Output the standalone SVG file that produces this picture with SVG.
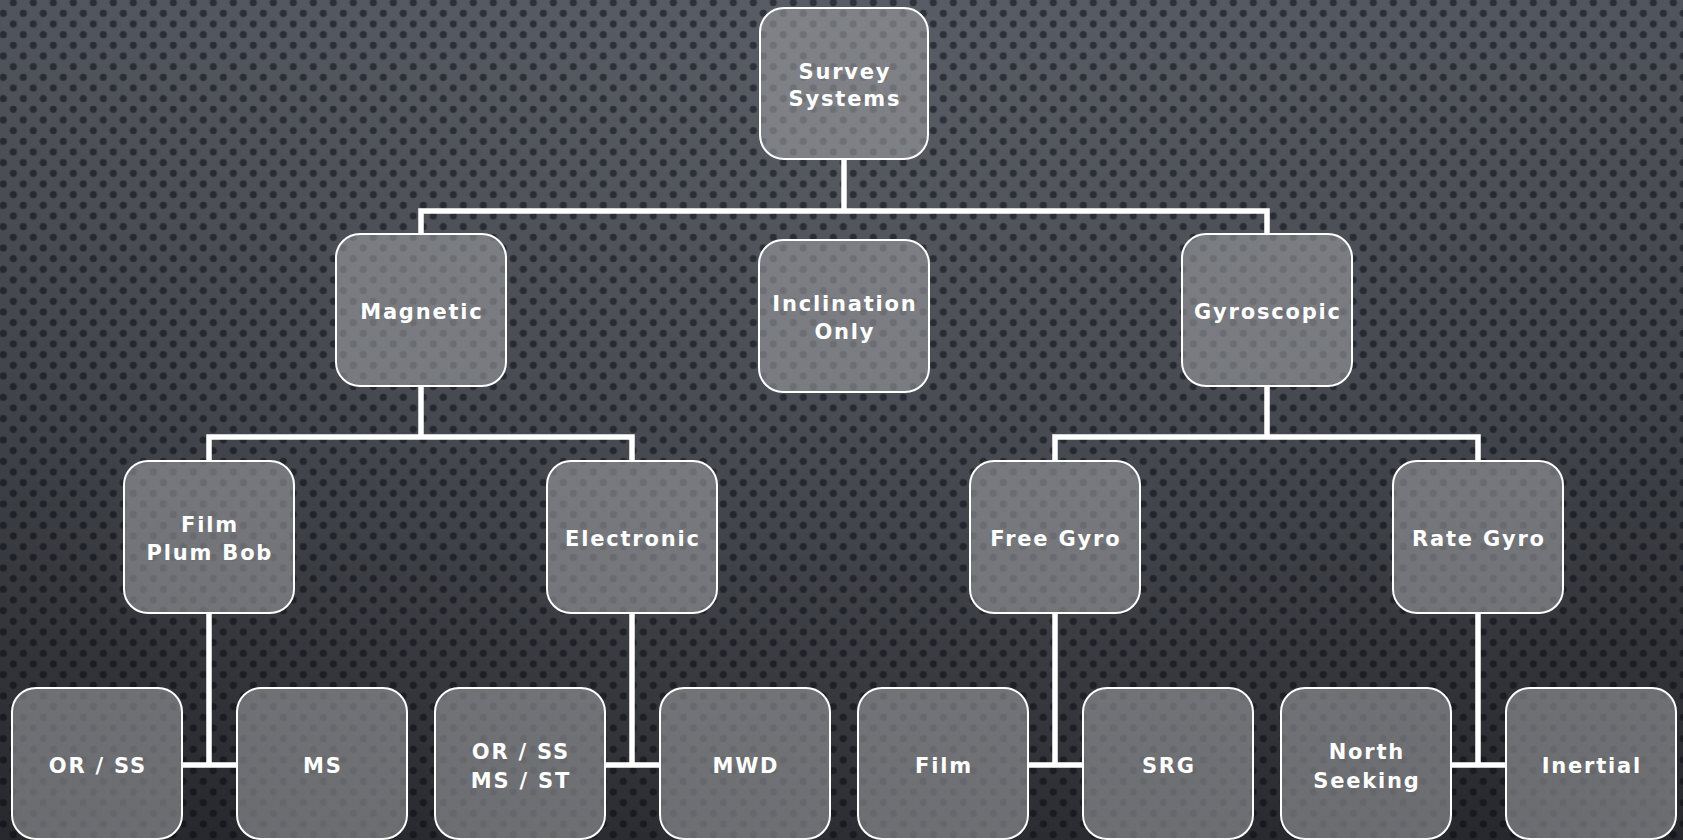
<svg xmlns="http://www.w3.org/2000/svg" width="1683" height="840" viewBox="0 0 1683 840">
  <defs>
    <linearGradient id="bg" x1="0" y1="0" x2="0" y2="1">
      <stop offset="0" stop-color="#50545c"/>
      <stop offset="0.5" stop-color="#3f4248"/>
      <stop offset="1" stop-color="#27282c"/>
    </linearGradient>
    <radialGradient id="glow" cx="842" cy="120" r="900" gradientUnits="userSpaceOnUse">
      <stop offset="0" stop-color="#6a6e76" stop-opacity="0.35"/>
      <stop offset="1" stop-color="#6a6e76" stop-opacity="0"/>
    </radialGradient>
    <pattern id="dots" x="-1.7" y="8" width="20" height="21.333" patternUnits="userSpaceOnUse">
      <circle cx="5" cy="5.333" r="3.6" fill="#05080f" fill-opacity="0.5"/>
      <circle cx="15" cy="16" r="3.6" fill="#05080f" fill-opacity="0.5"/>
    </pattern>
    <style>
      .box { fill: #9a9b9e; fill-opacity: 0.6; stroke: #ffffff; stroke-width: 2; }
      .lbl { font-family: "DejaVu Sans", Verdana, sans-serif; font-weight: bold; font-size: 21px; letter-spacing: 1.8px; fill: #ffffff; text-anchor: middle; }
      .conn { fill: none; stroke: #ffffff; stroke-width: 5.5; stroke-linecap: butt; stroke-linejoin: miter; }
    </style>
  </defs>

  <rect x="0" y="0" width="1683" height="840" fill="url(#bg)"/>
  <rect x="0" y="0" width="1683" height="840" fill="url(#glow)"/>
  <rect x="0" y="0" width="1683" height="840" fill="url(#dots)"/>

  <g id="connectors">
    <path class="conn" d="M844,159 V211"/>
    <path class="conn" d="M421,234 V211 H1267 V234"/>
    <path class="conn" d="M421,386 V437"/>
    <path class="conn" d="M209,461 V437 H632 V461"/>
    <path class="conn" d="M1267,386 V437"/>
    <path class="conn" d="M1055,461 V437 H1478 V461"/>
    <path class="conn" d="M209,613 V765 M182,765 H237"/>
    <path class="conn" d="M632,613 V765 M605,765 H660"/>
    <path class="conn" d="M1055,613 V765 M1028,765 H1083"/>
    <path class="conn" d="M1478,613 V765 M1451,765 H1506"/>
  </g>

  <g id="node-survey-systems">
    <rect class="box" x="760" y="8" width="168" height="151" rx="24"/>
    <text class="lbl" x="844.9" y="79">Survey</text>
    <text class="lbl" x="844.9" y="106">Systems</text>
  </g>
  <g id="node-magnetic">
    <rect class="box" x="336" y="234" width="170" height="152" rx="24"/>
    <text class="lbl" x="421.9" y="319">Magnetic</text>
  </g>
  <g id="node-inclination-only">
    <rect class="box" x="759" y="240" width="170" height="152" rx="24"/>
    <text class="lbl" x="844.9" y="311">Inclination</text>
    <text class="lbl" x="844.9" y="339">Only</text>
  </g>
  <g id="node-gyroscopic">
    <rect class="box" x="1182" y="234" width="170" height="152" rx="24"/>
    <text class="lbl" x="1267.9" y="319">Gyroscopic</text>
  </g>

  <g id="node-film-plum-bob">
    <rect class="box" x="124" y="461" width="170" height="152" rx="24"/>
    <text class="lbl" x="209.9" y="532">Film</text>
    <text class="lbl" x="209.9" y="560">Plum Bob</text>
  </g>
  <g id="node-electronic">
    <rect class="box" x="547" y="461" width="170" height="152" rx="24"/>
    <text class="lbl" x="632.9" y="546">Electronic</text>
  </g>
  <g id="node-free-gyro">
    <rect class="box" x="970" y="461" width="170" height="152" rx="24"/>
    <text class="lbl" x="1055.9" y="546">Free Gyro</text>
  </g>
  <g id="node-rate-gyro">
    <rect class="box" x="1393" y="461" width="170" height="152" rx="24"/>
    <text class="lbl" x="1478.9" y="546">Rate Gyro</text>
  </g>

  <g id="node-or-ss">
    <rect class="box" x="12" y="688" width="170" height="151" rx="24"/>
    <text class="lbl" x="97.9" y="773">OR / SS</text>
  </g>
  <g id="node-ms">
    <rect class="box" x="237" y="688" width="170" height="151" rx="24"/>
    <text class="lbl" x="322.9" y="773">MS</text>
  </g>
  <g id="node-or-ss-ms-st">
    <rect class="box" x="435" y="688" width="170" height="151" rx="24"/>
    <text class="lbl" x="520.9" y="759">OR / SS</text>
    <text class="lbl" x="520.9" y="788">MS / ST</text>
  </g>
  <g id="node-mwd">
    <rect class="box" x="660" y="688" width="170" height="151" rx="24"/>
    <text class="lbl" x="745.9" y="773">MWD</text>
  </g>
  <g id="node-film">
    <rect class="box" x="858" y="688" width="170" height="151" rx="24"/>
    <text class="lbl" x="943.9" y="773">Film</text>
  </g>
  <g id="node-srg">
    <rect class="box" x="1083" y="688" width="170" height="151" rx="24"/>
    <text class="lbl" x="1168.9" y="773">SRG</text>
  </g>
  <g id="node-north-seeking">
    <rect class="box" x="1281" y="688" width="170" height="151" rx="24"/>
    <text class="lbl" x="1366.9" y="759">North</text>
    <text class="lbl" x="1366.9" y="788">Seeking</text>
  </g>
  <g id="node-inertial">
    <rect class="box" x="1506" y="688" width="170" height="151" rx="24"/>
    <text class="lbl" x="1591.9" y="773">Inertial</text>
  </g>
</svg>
